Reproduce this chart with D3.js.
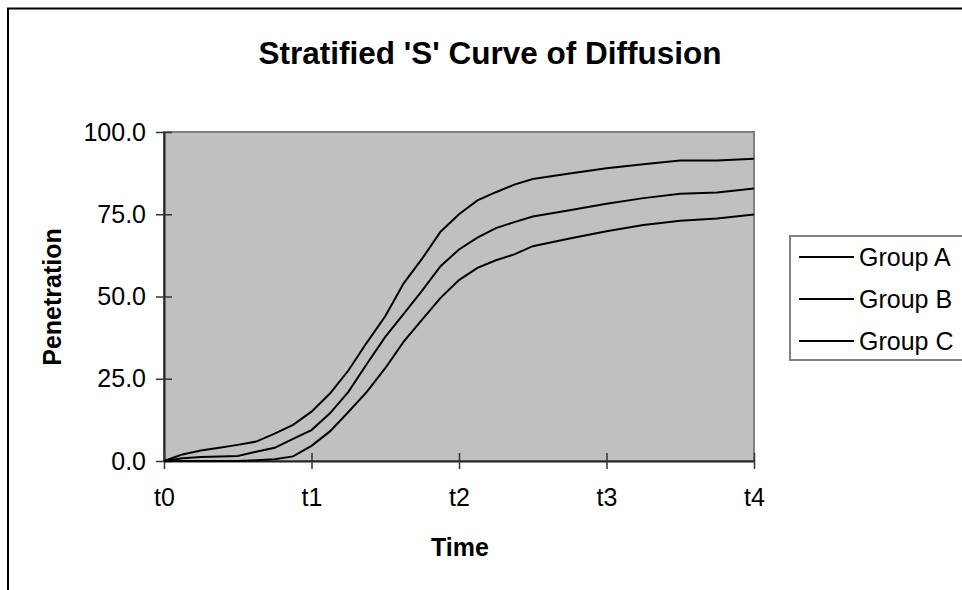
<!DOCTYPE html>
<html><head><meta charset="utf-8">
<script src="https://cdn.jsdelivr.net/npm/d3@7/dist/d3.min.js"></script>
<style>body{margin:0;background:#fff;}svg{display:block;font-family:"Liberation Sans",Arial,sans-serif;}</style>
</head><body>
<svg id="chart" width="962" height="590"></svg>
<script>
const timePoints = [0, 0.125, 0.25, 0.375, 0.5, 0.625, 0.75, 0.875, 1, 1.125, 1.25, 1.375, 1.5, 1.625, 1.75, 1.875, 2, 2.125, 2.25, 2.375, 2.5, 2.75, 3, 3.25, 3.5, 3.75, 4];
const groupA = [0, 2.0, 3.2, 4.0, 4.9, 5.9, 8.3, 11.0, 15.0, 20.5, 27.5, 36.0, 44.0, 54.0, 61.5, 69.7, 75.0, 79.2, 81.7, 84.0, 85.7, 87.4, 89.0, 90.2, 91.3, 91.3, 91.9];
const groupB = [0, 0.8, 1.2, 1.4, 1.5, 2.8, 4.0, 6.7, 9.4, 14.5, 21.0, 29.5, 37.7, 44.7, 51.8, 59.2, 64.3, 67.9, 70.8, 72.6, 74.3, 76.2, 78.2, 79.9, 81.2, 81.6, 82.8];
const groupC = [0, 0, 0, 0, 0, 0.2, 0.5, 1.4, 4.6, 9.0, 14.9, 21.0, 28.2, 36.3, 43.0, 49.6, 55.0, 58.7, 61.0, 62.8, 65.3, 67.6, 69.8, 71.7, 73.0, 73.7, 74.9];
const seriesNames = ["Group A", "Group B", "Group C"];
const xTickValues = [0, 1, 2, 3, 4];
const xTickLabels = ["t0", "t1", "t2", "t3", "t4"];
const yTickValues = [0, 25, 50, 75, 100];
const titleText = "Stratified 'S' Curve of Diffusion";
const xTitle = "Time";
const yTitle = "Penetration";

const FONT = "Liberation Sans, Arial, sans-serif";
const svg = d3.select("#chart");
const L = 164, R = 754, T = 132, B = 461;
const x = d3.scaleLinear().domain([0, 4]).range([L, R]);
const y = d3.scaleLinear().domain([0, 100]).range([B, T]);

// outer border
svg.append("rect").attr("x", 8).attr("y", 8.5).attr("width", 1000).attr("height", 1000)
  .attr("fill", "none").attr("stroke", "#000").attr("stroke-width", 2);

// plot area
svg.append("rect").attr("x", L).attr("y", T).attr("width", R - L).attr("height", B - T)
  .attr("fill", "#c0c0c0").attr("stroke", "#808080").attr("stroke-width", 2);

// axes
const yAxis = d3.axisLeft(y).tickValues(yTickValues).tickFormat(d3.format(".1f")).tickSizeInner(8).tickSizeOuter(0).tickPadding(10);
const gy = svg.append("g").attr("transform", `translate(${L},0)`).call(yAxis);
gy.attr("font-size", null).attr("font-family", null);
gy.select(".domain").attr("stroke", "#222").attr("stroke-width", 2);
gy.selectAll(".tick line").attr("stroke", "#333").attr("stroke-width", 1.5).attr("x2", 8).attr("x1", -8);
gy.selectAll(".tick text").style("font-size", "25px").attr("fill", "#000").style("font-family", FONT).attr("x", -18);

const xAxis = d3.axisBottom(x).tickValues(xTickValues).tickFormat((d, i) => xTickLabels[i]).tickSizeInner(8).tickSizeOuter(0).tickPadding(10);
const gx = svg.append("g").attr("transform", `translate(0,${B})`).call(xAxis);
gx.attr("font-size", null).attr("font-family", null);
gx.select(".domain").attr("stroke", "#222").attr("stroke-width", 2);
gx.selectAll(".tick line").attr("stroke", "#333").attr("stroke-width", 1.5).attr("y1", -8).attr("y2", 8);
gx.selectAll(".tick text").style("font-size", "25px").attr("fill", "#000").style("font-family", FONT)
  .attr("y", 45).attr("dy", null);

// lines
const line = d3.line().x((d, i) => x(timePoints[i])).y(d => y(d));
[groupA, groupB, groupC].forEach(s => {
  svg.append("path").datum(s).attr("d", line).attr("fill", "none").attr("stroke", "#000").attr("stroke-width", 2);
});

// titles
svg.append("text").attr("x", 490).attr("y", 64).attr("text-anchor", "middle")
  .style("font-size", "31.5px").attr("font-weight", "bold").text(titleText);
svg.append("text").attr("x", 460).attr("y", 556).attr("text-anchor", "middle")
  .style("font-size", "25px").attr("font-weight", "bold").text(xTitle);
svg.append("text").attr("transform", "translate(52,297) rotate(-90)").attr("text-anchor", "middle")
  .attr("dominant-baseline", "central")
  .style("font-size", "25px").attr("font-weight", "bold").text(yTitle);

// legend
const lg = svg.append("g");
lg.append("rect").attr("x", 790).attr("y", 236).attr("width", 200).attr("height", 124)
  .attr("fill", "#fff").attr("stroke", "#808080").attr("stroke-width", 2);
seriesNames.forEach((n, i) => {
  const ly = 257 + i * 42;
  lg.append("line").attr("x1", 799).attr("x2", 854).attr("y1", ly).attr("y2", ly).attr("stroke", "#000").attr("stroke-width", 2);
  lg.append("text").attr("x", 859).attr("y", ly).attr("dominant-baseline", "central").style("font-size", "25px").text(n);
});
</script>
</body></html>
